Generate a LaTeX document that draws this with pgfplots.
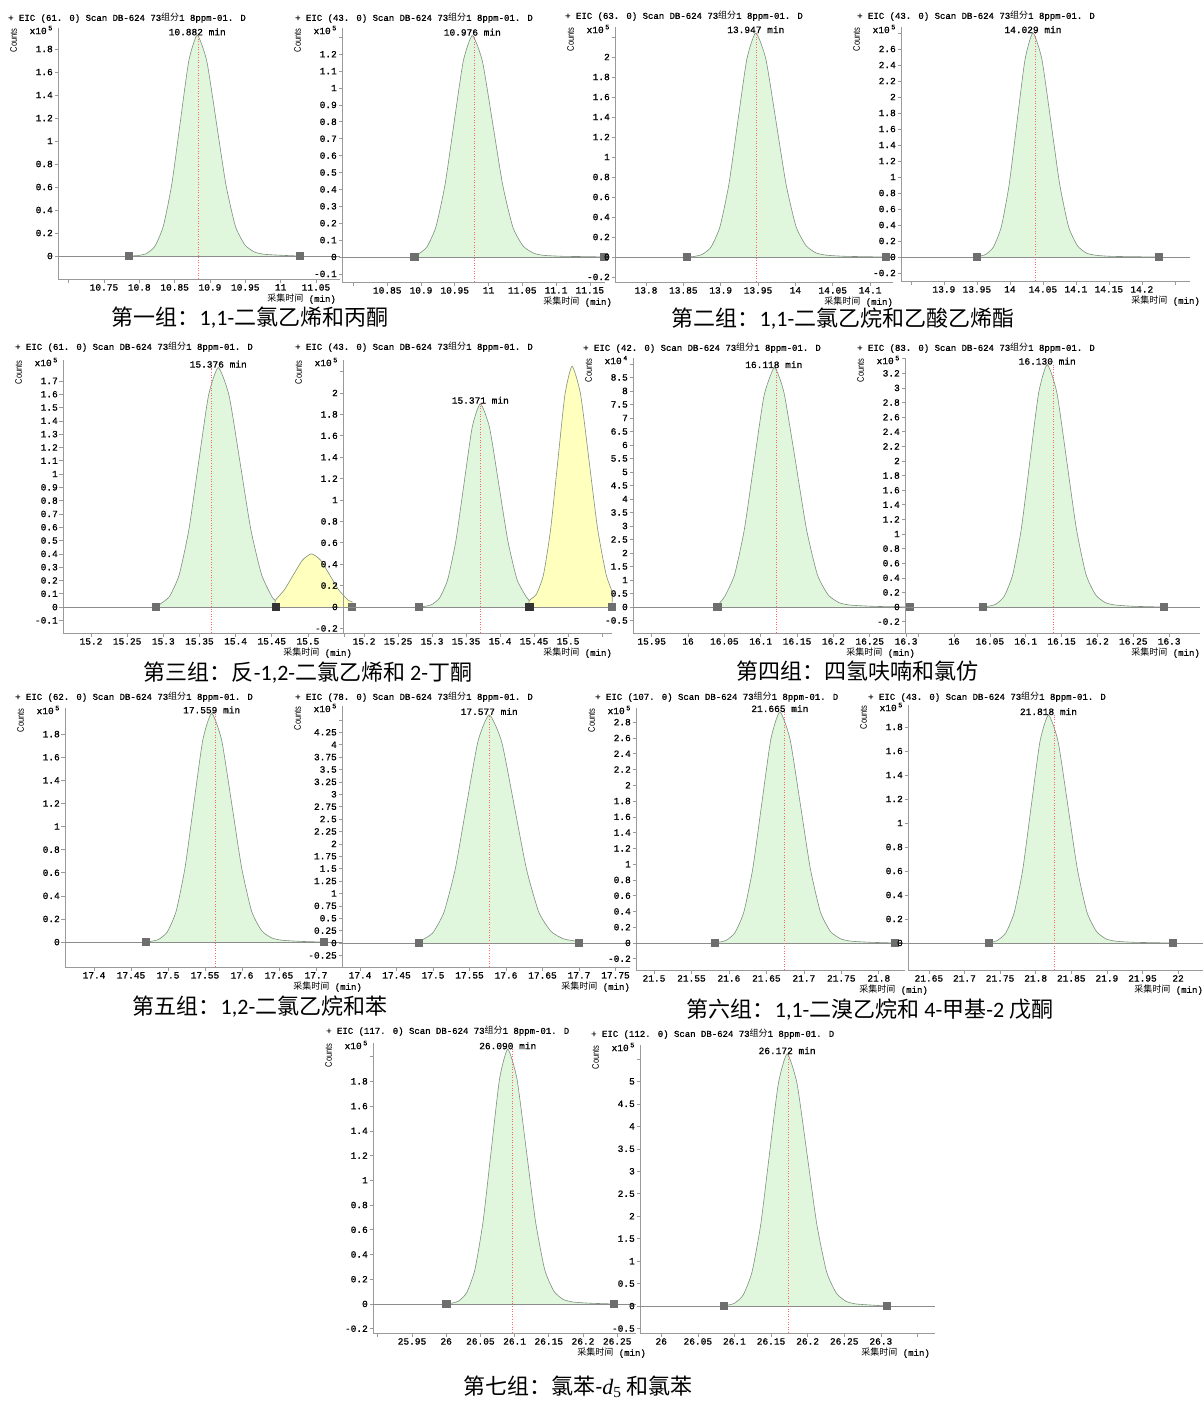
\documentclass[border=0pt]{standalone}
\usepackage{fontspec}
\usepackage{pgfplots}
\pgfplotsset{compat=1.18}
\setmainfont{Carlito}
\newfontfamily\cjk{Noto Sans CJK SC}
\newfontfamily\tickfamily{Liberation Mono}[FakeBold=1]
\newfontfamily\cntfamily{Liberation Sans}[FakeStretch=0.8]
\newfontfamily\tnr{Liberation Serif}
\newcommand\tickfont{\tickfamily\fontsize{9.5}{10}\selectfont}
\newcommand\ttlfont{\tickfamily\fontsize{9}{10}\selectfont}
\newcommand\cntfont{\cntfamily\fontsize{9.5}{10}\selectfont}
\newcommand\capfont{\fontsize{22}{24}\selectfont}
\newcommand\eic[1]{+ EIC (#1) Scan DB-624 73{\cjk 组分}1 8ppm-01. D}
\newcommand\xlab{{\cjk 采集时间} (min)}

\definecolor{axgray}{HTML}{9A9A9A}
\definecolor{pkgreen}{HTML}{E0F7DE}
\definecolor{pkyellow}{HTML}{FFFFBE}
\definecolor{pkline}{HTML}{7F8F7F}
\definecolor{blgray}{HTML}{8C8C8C}
\definecolor{mkgray}{HTML}{6E6E6E}
\definecolor{mkdark}{HTML}{333333}

\pgfplotsset{
  chrom/.style={scale only axis, anchor=south west, axis lines*=left, clip=false,
    axis line style={draw=axgray, line width=0.8pt},
    tick align=outside, major tick length=3.5pt,
    tick style={draw=axgray, line width=0.6pt},
    tick label style={font=\tickfont, text=black, inner sep=1.5pt},
    scaled ticks=false},
  pk/.style={draw=pkline, fill=pkgreen, line width=0.6pt, smooth, tension=0.35},
  pky/.style={draw=pkline, fill=pkyellow, line width=0.6pt, smooth, tension=0.35},
  bl/.style={draw=blgray, line width=0.8pt},
  rl/.style={draw=red!60!white, dash pattern=on 1pt off 1.6pt, line width=0.6pt},
  mk/.style={only marks, mark=square*, mark size=3.6pt, mark options={draw=mkgray, fill=mkgray}},
  mkd/.style={only marks, mark=square*, mark size=3.6pt, mark options={draw=mkdark, fill=mkdark}},
}
\tikzset{
  plab/.style={anchor=base, font=\tickfont, inner sep=1pt},
  ttl/.style={anchor=west, font=\ttlfont, inner sep=0pt},
  cnt/.style={rotate=90, anchor=north east, font=\cntfont, inner sep=0pt},
  xpo/.style={anchor=east, font=\tickfont, inner sep=0pt},
  xl/.style={anchor=east, font=\ttlfont, inner sep=0pt},
  grpcap/.style={font=\capfont, inner sep=0pt},
}

\begin{document}
\begin{tikzpicture}
\path[use as bounding box] (0pt,0pt) rectangle (1203pt,-1401pt);

% ---------------- group 1 ----------------
\begin{axis}[chrom, at={(58pt,-279pt)}, width=282pt, height=251pt,
  xmin=10.685, xmax=11.084, ymin=-0.2, ymax=1.983,
  xtick={10.7,10.75,10.8,10.85,10.9,10.95,11,11.05},
  xticklabels={,10.75,10.8,10.85,10.9,10.95,11,11.05},
  ytick={0,0.2,0.4,0.6,0.8,1,1.2,1.4,1.6,1.8},
  yticklabels={0,0.2,0.4,0.6,0.8,1,1.2,1.4,1.6,1.8}]
\addplot[pk] coordinates {(10.785,0) (10.798,0.004) (10.810,0.021) (10.822,0.084) (10.834,0.259) (10.846,0.624) (10.858,1.165) (10.870,1.695) (10.882,1.92) (10.8955,1.695) (10.909,1.165) (10.9225,0.624) (10.936,0.259) (10.9495,0.096) (10.963,0.035) (10.977,0.015) (11.002,0.006) (11.027,0)};
\addplot[bl] coordinates {(10.685,0) (11.084,0)};
\addplot[rl] coordinates {(10.883,-0.2) (10.883,1.92)};
\addplot[mk] coordinates {(10.785,0) (11.027,0)};
\node[plab] at (axis cs:10.882,1.92) {10.882 min};
\end{axis}

\begin{axis}[chrom, at={(342pt,-282pt)}, width=263pt, height=254pt,
  xmin=10.783, xmax=11.1725, ymin=-0.148, ymax=1.355,
  xtick={10.8,10.85,10.9,10.95,11,11.05,11.1,11.15},
  xticklabels={,10.85,10.9,10.95,11,11.05,11.1,11.15},
  ytick={-0.1,0,0.1,0.2,0.3,0.4,0.5,0.6,0.7,0.8,0.9,1,1.1,1.2,1.3},
  yticklabels={-0.1,0,0.1,0.2,0.3,0.4,0.5,0.6,0.7,0.8,0.9,1,1.1,1.2,}]
\addplot[pk] coordinates {(10.89,0) (10.895,0.014) (10.9085,0.058) (10.922,0.177) (10.9355,0.426) (10.949,0.795) (10.9625,1.157) (10.976,1.31) (10.991,1.157) (11.006,0.795) (11.021,0.426) (11.036,0.177) (11.051,0.066) (11.066,0.024) (11.081,0.010) (11.111,0.004) (11.15,0.002) (11.17,0)};
\addplot[bl] coordinates {(10.783,0) (11.1725,0)};
\addplot[rl] coordinates {(10.979,-0.148) (10.979,1.31)};
\addplot[mk] coordinates {(10.89,0) (11.17,0)};
\node[plab] at (axis cs:10.976,1.31) {10.976 min};
\end{axis}

% ---------------- group 2 ----------------
\begin{axis}[chrom, at={(615pt,-282pt)}, width=278pt, height=255pt,
  xmin=13.7585, xmax=14.1307, ymin=-0.25, ymax=2.30,
  xtick={13.8,13.85,13.9,13.95,14,14.05,14.1},
  xticklabels={13.8,13.85,13.9,13.95,14,14.05,14.1},
  ytick={-0.2,0,0.2,0.4,0.6,0.8,1,1.2,1.4,1.6,1.8,2,2.2},
  yticklabels={-0.2,0,0.2,0.4,0.6,0.8,1,1.2,1.4,1.6,1.8,2,}]
\addplot[pk] coordinates {(13.855,0) (13.863,0.004) (13.875,0.025) (13.887,0.099) (13.899,0.302) (13.911,0.728) (13.923,1.360) (13.935,1.978) (13.947,2.24) (13.9605,1.978) (13.974,1.360) (13.9875,0.728) (14.001,0.302) (14.0145,0.112) (14.028,0.040) (14.042,0.018) (14.067,0.007) (14.121,0)};
\addplot[bl] coordinates {(13.7585,0) (14.1307,0)};
\addplot[rl] coordinates {(13.947,-0.25) (13.947,2.24)};
\addplot[mk] coordinates {(13.855,0) (14.121,0)};
\node[plab] at (axis cs:13.947,2.24) {13.947 min};
\end{axis}

\begin{axis}[chrom, at={(901pt,-281pt)}, width=289pt, height=254pt,
  xmin=13.835, xmax=14.273, ymin=-0.3, ymax=2.875,
  xtick={13.85,13.9,13.95,14,14.05,14.1,14.15,14.2,14.25},
  xticklabels={,13.9,13.95,14,14.05,14.1,14.15,14.2,},
  ytick={-0.2,0,0.2,0.4,0.6,0.8,1,1.2,1.4,1.6,1.8,2,2.2,2.4,2.6,2.8},
  yticklabels={-0.2,0,0.2,0.4,0.6,0.8,1,1.2,1.4,1.6,1.8,2,2.2,2.4,2.6,}]
\addplot[pk] coordinates {(13.95,0) (13.951,0.006) (13.963,0.031) (13.975,0.123) (13.987,0.378) (13.999,0.910) (14.011,1.700) (14.023,2.472) (14.035,2.8) (14.0485,2.472) (14.062,1.700) (14.0755,0.910) (14.089,0.378) (14.1025,0.140) (14.116,0.050) (14.130,0.022) (14.155,0.008) (14.225,0)};
\addplot[bl] coordinates {(13.835,0) (14.273,0)};
\addplot[rl] coordinates {(14.038,-0.3) (14.038,2.8)};
\addplot[mk] coordinates {(13.95,0) (14.225,0)};
\node[plab] at (axis cs:14.035,2.8) {14.029 min};
\end{axis}

% ---------------- group 3 ----------------
\begin{axis}[chrom, at={(63pt,-633pt)}, width=289pt, height=273pt,
  xmin=15.1613, xmax=15.561, ymin=-0.195, ymax=1.857,
  xtick={15.2,15.25,15.3,15.35,15.4,15.45,15.5,15.55},
  xticklabels={15.2,15.25,15.3,15.35,15.4,15.45,15.5,},
  ytick={-0.1,0,0.1,0.2,0.3,0.4,0.5,0.6,0.7,0.8,0.9,1,1.1,1.2,1.3,1.4,1.5,1.6,1.7},
  yticklabels={-0.1,0,0.1,0.2,0.3,0.4,0.5,0.6,0.7,0.8,0.9,1,1.1,1.2,1.3,1.4,1.5,1.6,1.7}]
\addplot[pk] coordinates {(15.29,0) (15.295,0.020) (15.3085,0.079) (15.322,0.243) (15.3355,0.585) (15.349,1.093) (15.3625,1.589) (15.376,1.80) (15.391,1.589) (15.406,1.093) (15.421,0.585) (15.436,0.243) (15.451,0.07) (15.455,0.05) (15.455,0)};
\addplot[pky] coordinates {(15.455,0) (15.455,0.05) (15.4675,0.13) (15.48,0.243) (15.4925,0.353) (15.505,0.40) (15.5175,0.353) (15.53,0.243) (15.5425,0.13) (15.556,0.05) (15.561,0.04) (15.561,0)};
\addplot[bl] coordinates {(15.1613,0) (15.561,0)};
\addplot[rl] coordinates {(15.367,-0.195) (15.367,1.80)};
\addplot[mk] coordinates {(15.29,0) (15.561,0)};
\addplot[mkd] coordinates {(15.455,0)};
\node[plab] at (axis cs:15.376,1.80) {15.376 min};
\end{axis}

\begin{axis}[chrom, at={(343pt,-633pt)}, width=269pt, height=273pt,
  xmin=15.169, xmax=15.5647, ymin=-0.243, ymax=2.308,
  xtick={15.2,15.25,15.3,15.35,15.4,15.45,15.5,15.55},
  xticklabels={15.2,15.25,15.3,15.35,15.4,15.45,15.5,},
  ytick={-0.2,0,0.2,0.4,0.6,0.8,1,1.2,1.4,1.6,1.8,2,2.2},
  yticklabels={-0.2,0,0.2,0.4,0.6,0.8,1,1.2,1.4,1.6,1.8,2,}]
\addplot[pk] coordinates {(15.28,0) (15.287,0.004) (15.299,0.021) (15.311,0.084) (15.323,0.257) (15.335,0.618) (15.347,1.153) (15.359,1.678) (15.371,1.90) (15.3845,1.678) (15.398,1.153) (15.4115,0.618) (15.425,0.257) (15.4385,0.095) (15.443,0.06) (15.443,0)};
\addplot[pky] coordinates {(15.443,0) (15.443,0.06) (15.4535,0.12) (15.464,0.304) (15.4745,0.731) (15.485,1.365) (15.4955,1.986) (15.506,2.25) (15.5185,1.986) (15.531,1.365) (15.5435,0.731) (15.556,0.304) (15.5647,0.142) (15.5647,0)};
\addplot[bl] coordinates {(15.169,0) (15.5647,0)};
\addplot[rl] coordinates {(15.371,-0.243) (15.371,1.90)};
\addplot[mk] coordinates {(15.28,0) (15.5647,0)};
\addplot[mkd] coordinates {(15.443,0)};
\node[plab] at (axis cs:15.371,1.90) {15.371 min};
\end{axis}

% ---------------- group 4 ----------------
\begin{axis}[chrom, at={(633pt,-633pt)}, width=277pt, height=275pt,
  xmin=15.9243, xmax=16.3054, ymin=-0.963, ymax=9.22,
  xtick={15.95,16,16.05,16.1,16.15,16.2,16.25,16.3},
  xticklabels={15.95,16,16.05,16.1,16.15,16.2,16.25,16.3},
  ytick={-0.5,0,0.5,1,1.5,2,2.5,3,3.5,4,4.5,5,5.5,6,6.5,7,7.5,8,8.5,9},
  yticklabels={-0.5,0,0.5,1,1.5,2,2.5,3,3.5,4,4.5,5,5.5,6,6.5,7,7.5,8,8.5,}]
\addplot[pk] coordinates {(16.04,0) (16.045,0.2) (16.0505,0.389) (16.064,1.195) (16.0775,2.876) (16.091,5.372) (16.1045,7.815) (16.118,8.85) (16.125,8.55) (16.133,7.815) (16.148,5.372) (16.163,2.876) (16.178,1.195) (16.193,0.443) (16.208,0.159) (16.223,0.071) (16.253,0.027) (16.28,0.01) (16.305,0)};
\addplot[bl] coordinates {(15.9243,0) (16.3054,0)};
\addplot[rl] coordinates {(16.121,-0.963) (16.121,8.85)};
\addplot[mk] coordinates {(16.04,0) (16.305,0)};
\node[plab] at (axis cs:16.118,8.85) {16.118 min};
\end{axis}

\begin{axis}[chrom, at={(905pt,-633pt)}, width=295pt, height=275pt,
  xmin=15.9317, xmax=16.343, ymin=-0.356, ymax=3.41,
  xtick={15.95,16,16.05,16.1,16.15,16.2,16.25,16.3},
  xticklabels={,16,16.05,16.1,16.15,16.2,16.25,16.3},
  ytick={-0.2,0,0.2,0.4,0.6,0.8,1,1.2,1.4,1.6,1.8,2,2.2,2.4,2.6,2.8,3,3.2,3.4},
  yticklabels={-0.2,0,0.2,0.4,0.6,0.8,1,1.2,1.4,1.6,1.8,2,2.2,2.4,2.6,2.8,3,3.2,}]
\addplot[pk] coordinates {(16.04,0) (16.046,0.007) (16.058,0.037) (16.070,0.146) (16.082,0.448) (16.094,1.079) (16.106,2.015) (16.118,2.932) (16.130,3.32) (16.1435,2.932) (16.157,2.015) (16.1705,1.079) (16.184,0.448) (16.1975,0.166) (16.211,0.060) (16.225,0.027) (16.25,0.010) (16.292,0)};
\addplot[bl] coordinates {(15.9317,0) (16.343,0)};
\addplot[rl] coordinates {(16.138,-0.356) (16.138,3.32)};
\addplot[mk] coordinates {(16.04,0) (16.292,0)};
\node[plab] at (axis cs:16.130,3.32) {16.130 min};
\end{axis}

% ---------------- group 5 ----------------
\begin{axis}[chrom, at={(65pt,-967pt)}, width=278pt, height=259pt,
  xmin=17.3608, xmax=17.7365, ymin=-0.216, ymax=2.026,
  xtick={17.4,17.45,17.5,17.55,17.6,17.65,17.7},
  xticklabels={17.4,17.45,17.5,17.55,17.6,17.65,17.7},
  ytick={0,0.2,0.4,0.6,0.8,1,1.2,1.4,1.6,1.8},
  yticklabels={0,0.2,0.4,0.6,0.8,1,1.2,1.4,1.6,1.8}]
\addplot[pk] coordinates {(17.47,0) (17.475,0.004) (17.487,0.022) (17.499,0.087) (17.511,0.267) (17.523,0.644) (17.535,1.202) (17.547,1.748) (17.559,1.98) (17.5725,1.748) (17.586,1.202) (17.5995,0.644) (17.613,0.267) (17.6265,0.099) (17.640,0.036) (17.654,0.016) (17.679,0.006) (17.71,0)};
\addplot[bl] coordinates {(17.3608,0) (17.7365,0)};
\addplot[rl] coordinates {(17.564,-0.216) (17.564,1.98)};
\addplot[mk] coordinates {(17.47,0) (17.71,0)};
\node[plab] at (axis cs:17.559,1.98) {17.559 min};
\end{axis}

\begin{axis}[chrom, at={(342pt,-967pt)}, width=288pt, height=261pt,
  xmin=17.3753, xmax=17.7699, ymin=-0.484, ymax=4.78,
  xtick={17.4,17.45,17.5,17.55,17.6,17.65,17.7,17.75},
  xticklabels={17.4,17.45,17.5,17.55,17.6,17.65,17.7,17.75},
  ytick={-0.25,0,0.25,0.5,0.75,1,1.25,1.5,1.75,2,2.25,2.5,2.75,3,3.25,3.5,3.75,4,4.25,4.5},
  yticklabels={-0.25,0,0.25,0.5,0.75,1,1.25,1.5,1.75,2,2.25,2.5,2.75,3,3.25,3.5,3.75,4,4.25,}]
\addplot[pk] coordinates {(17.48,0) (17.484,0.051) (17.4995,0.202) (17.515,0.621) (17.5305,1.495) (17.546,2.792) (17.5615,4.062) (17.577,4.6) (17.594,4.062) (17.611,2.792) (17.628,1.495) (17.645,0.621) (17.662,0.23) (17.679,0.083) (17.696,0.037) (17.70,0)};
\addplot[bl] coordinates {(17.3753,0) (17.7699,0)};
\addplot[rl] coordinates {(17.577,-0.484) (17.577,4.6)};
\addplot[mk] coordinates {(17.48,0) (17.70,0)};
\node[plab] at (axis cs:17.577,4.6) {17.577 min};
\end{axis}

% ---------------- group 6 ----------------
\begin{axis}[chrom, at={(636pt,-970pt)}, width=269pt, height=262pt,
  xmin=21.476, xmax=21.835, ymin=-0.343, ymax=2.98,
  xtick={21.5,21.55,21.6,21.65,21.7,21.75,21.8},
  xticklabels={21.5,21.55,21.6,21.65,21.7,21.75,21.8},
  ytick={-0.2,0,0.2,0.4,0.6,0.8,1,1.2,1.4,1.6,1.8,2,2.2,2.4,2.6,2.8},
  yticklabels={-0.2,0,0.2,0.4,0.6,0.8,1,1.2,1.4,1.6,1.8,2,2.2,2.4,2.6,2.8}]
\addplot[pk] coordinates {(21.581,0) (21.584,0.006) (21.596,0.032) (21.608,0.129) (21.620,0.396) (21.632,0.952) (21.644,1.779) (21.656,2.587) (21.668,2.93) (21.6815,2.587) (21.695,1.779) (21.7085,0.952) (21.722,0.396) (21.7355,0.147) (21.749,0.053) (21.763,0.023) (21.788,0.009) (21.821,0)};
\addplot[bl] coordinates {(21.476,0) (21.835,0)};
\addplot[rl] coordinates {(21.674,-0.343) (21.674,2.93)};
\addplot[mk] coordinates {(21.581,0) (21.821,0)};
\node[plab] at (axis cs:21.668,2.93) {21.665 min};
\end{axis}

\begin{axis}[chrom, at={(908pt,-970pt)}, width=295pt, height=265pt,
  xmin=21.6207, xmax=22.035, ymin=-0.225, ymax=1.983,
  xtick={21.65,21.7,21.75,21.8,21.85,21.9,21.95,22},
  xticklabels={21.65,21.7,21.75,21.8,21.85,21.9,21.95,22},
  ytick={0,0.2,0.4,0.6,0.8,1,1.2,1.4,1.6,1.8},
  yticklabels={0,0.2,0.4,0.6,0.8,1,1.2,1.4,1.6,1.8}]
\addplot[pk] coordinates {(21.734,0) (21.746,0.021) (21.758,0.084) (21.770,0.257) (21.782,0.618) (21.794,1.153) (21.806,1.678) (21.818,1.90) (21.8315,1.678) (21.845,1.153) (21.8585,0.618) (21.872,0.257) (21.8855,0.095) (21.899,0.034) (21.913,0.015) (21.938,0.006) (21.992,0)};
\addplot[bl] coordinates {(21.6207,0) (22.035,0)};
\addplot[rl] coordinates {(21.826,-0.225) (21.826,1.90)};
\addplot[mk] coordinates {(21.734,0) (21.992,0)};
\node[plab] at (axis cs:21.818,1.90) {21.818 min};
\end{axis}

% ---------------- group 7 ----------------
\begin{axis}[chrom, at={(373pt,-1333pt)}, width=263pt, height=290pt,
  xmin=25.893, xmax=26.2775, ymin=-0.235, ymax=2.11,
  xtick={25.9,25.95,26,26.05,26.1,26.15,26.2,26.25},
  xticklabels={,25.95,26,26.05,26.1,26.15,26.2,26.25},
  ytick={-0.2,0,0.2,0.4,0.6,0.8,1,1.2,1.4,1.6,1.8,2},
  yticklabels={-0.2,0,0.2,0.4,0.6,0.8,1,1.2,1.4,1.6,1.8,}]
\addplot[pk] coordinates {(26.0,0) (26.006,0.004) (26.018,0.023) (26.030,0.091) (26.042,0.278) (26.054,0.670) (26.066,1.250) (26.078,1.819) (26.090,2.06) (26.1035,1.819) (26.117,1.250) (26.1305,0.670) (26.144,0.278) (26.1575,0.103) (26.171,0.037) (26.185,0.016) (26.21,0.006) (26.245,0)};
\addplot[bl] coordinates {(25.893,0) (26.2775,0)};
\addplot[rl] coordinates {(26.097,-0.235) (26.097,2.06)};
\addplot[mk] coordinates {(26.0,0) (26.245,0)};
\node[plab] at (axis cs:26.090,2.06) {26.090 min};
\end{axis}

\begin{axis}[chrom, at={(640pt,-1333pt)}, width=295pt, height=288pt,
  xmin=25.971, xmax=26.374, ymin=-0.6, ymax=5.81,
  xtick={26,26.05,26.1,26.15,26.2,26.25,26.3,26.35},
  xticklabels={26,26.05,26.1,26.15,26.2,26.25,26.3,},
  ytick={-0.5,0,0.5,1,1.5,2,2.5,3,3.5,4,4.5,5,5.5},
  yticklabels={-0.5,0,0.5,1,1.5,2,2.5,3,3.5,4,4.5,5,}]
\addplot[pk] coordinates {(26.085,0) (26.088,0.011) (26.100,0.062) (26.112,0.247) (26.124,0.757) (26.136,1.823) (26.148,3.405) (26.160,4.954) (26.172,5.61) (26.1855,4.954) (26.199,3.405) (26.2125,1.823) (26.226,0.757) (26.2395,0.281) (26.253,0.101) (26.267,0.045) (26.292,0.017) (26.308,0)};
\addplot[bl] coordinates {(25.971,0) (26.374,0)};
\addplot[rl] coordinates {(26.1735,-0.6) (26.1735,5.61)};
\addplot[mk] coordinates {(26.085,0) (26.308,0)};
\node[plab] at (axis cs:26.172,5.61) {26.172 min};
\end{axis}

% ---------------- panel texts ----------------
\node[ttl] at (8pt,-18pt) {\eic{61. 0}};
\node[ttl] at (295pt,-18pt) {\eic{43. 0}};
\node[ttl] at (565pt,-16pt) {\eic{63. 0}};
\node[ttl] at (857pt,-16pt) {\eic{43. 0}};
\node[ttl] at (15pt,-347pt) {\eic{61. 0}};
\node[ttl] at (295pt,-347pt) {\eic{43. 0}};
\node[ttl] at (583pt,-348pt) {\eic{42. 0}};
\node[ttl] at (857pt,-348pt) {\eic{83. 0}};
\node[ttl] at (15pt,-697pt) {\eic{62. 0}};
\node[ttl] at (295pt,-697pt) {\eic{78. 0}};
\node[ttl] at (595pt,-697pt) {\eic{107. 0}};
\node[ttl] at (868pt,-697pt) {\eic{43. 0}};
\node[ttl] at (326pt,-1031pt) {\eic{117. 0}};
\node[ttl] at (591pt,-1034pt) {\eic{112. 0}};

\foreach \l/\t in {58/28,342/28,615/27,901/27,63/360,343/360,633/358,905/358,65/708,342/706,636/708,908/705,373/1043,640/1045}{
  \node[cnt] at ({(\l-48)*1pt},{-\t*1pt}) {Counts};
}
\foreach \l/\t/\e in {58/28/5,342/28/5,615/27/5,901/27/5,63/360/5,343/360/5,633/358/4,905/358/5,65/708/5,342/706/5,636/708/5,908/705/5,373/1043/5,640/1045/5}{
  \node[xpo] at ({(\l-5)*1pt},{-(\t+2)*1pt}) {x10\,\textsuperscript{\e}};
}
\foreach \r/\b in {336/279,612/282,893/282,1200/281,352/633,612/633,915/633,1200/633,362/967,630/967,928/970,1203/970,646/1333,930/1333}{
  \node[xl] at ({\r*1pt},{-(\b+20)*1pt}) {\xlab};
}

% ---------------- group captions ----------------
\node[grpcap] at (250pt,-318pt) {{\cjk 第一组：}1,1-{\cjk 二氯乙烯和丙酮}};
\node[grpcap] at (843pt,-319pt) {{\cjk 第二组：}1,1-{\cjk 二氯乙烷和乙酸乙烯酯}};
\node[grpcap] at (308pt,-673pt) {{\cjk 第三组：反}-1,2-{\cjk 二氯乙烯和} 2-{\cjk 丁酮}};
\node[grpcap] at (857pt,-671pt) {{\cjk 第四组：四氢呋喃和氯仿}};
\node[grpcap] at (260pt,-1007pt) {{\cjk 第五组：}1,2-{\cjk 二氯乙烷和苯}};
\node[grpcap] at (870pt,-1010pt) {{\cjk 第六组：}1,1-{\cjk 二溴乙烷和} 4-{\cjk 甲基}-2 {\cjk 戊酮}};
\node[grpcap] at (578pt,-1387pt) {{\cjk 第七组：氯苯}-{\tnr\itshape d}\textsubscript{\tnr 5} {\cjk 和氯苯}};
\end{tikzpicture}
\end{document}
